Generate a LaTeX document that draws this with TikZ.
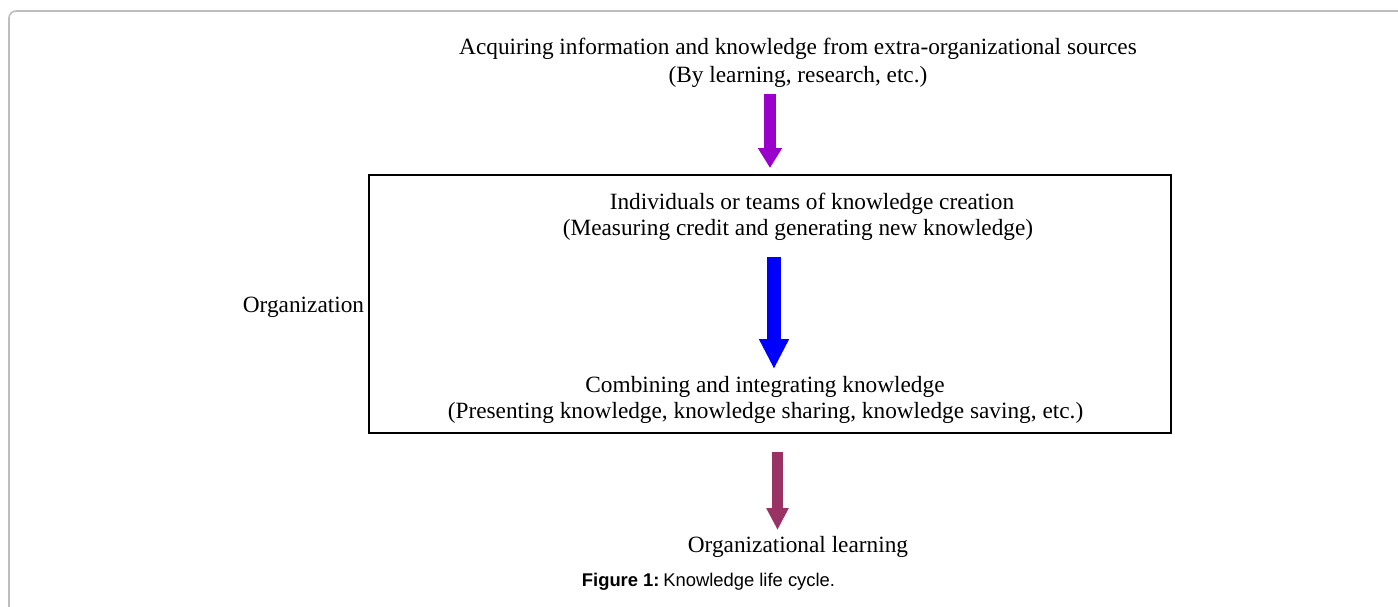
\documentclass[tikz,border=0pt]{standalone}
\usepackage{fontspec}
\setmainfont{Liberation Serif}
\setsansfont{Liberation Sans}
\usetikzlibrary{arrows.meta}
\definecolor{framegray}{RGB}{190,190,190}
\definecolor{topviolet}{RGB}{153,0,204}
\definecolor{midblue}{RGB}{0,0,255}
\definecolor{lowmaroon}{RGB}{153,51,102}
\tikzset{
  lbl/.style={font=\fontsize{23.3}{28}\selectfont, anchor=base, inner sep=0pt},
  figcaption/.style={font=\sffamily\fontsize{18.4}{22}\selectfont, anchor=base, inner sep=0pt},
  orgbox/.style={draw=black, line width=1.3pt, minimum width=802pt, minimum height=258pt, inner sep=0pt},
  blockarrow/.style n args={4}{draw=#1, line width=#2, -{Triangle[length=#3, width=#4, fill=#1]}},
}
\begin{document}
\begin{tikzpicture}[x=1pt,y=-1pt]
\useasboundingbox (0,0) rectangle (1398,606);
\begin{scope}
\clip (0,0) rectangle (1398,606);
\draw[framegray, line width=1.6pt, rounded corners=7pt] (9,640) -- (9,11) -- (1430,11);
\end{scope}
\node[orgbox] (org) at (770,304) {};
\node[lbl] (src1) at (798,54) {Acquiring information and knowledge from extra-organizational sources};
\node[lbl] (src2) at (798,82) {(By learning, research, etc.)};
\node[lbl] (ind1) at (812,209.5) {Individuals or teams of knowledge creation};
\node[lbl] (ind2) at (798,235.5) {(Measuring credit and generating new knowledge)};
\node[lbl] (comb1) at (765,392.5) {Combining and integrating knowledge};
\node[lbl] (comb2) at (765.5,418.5) {(Presenting knowledge, knowledge sharing, knowledge saving, etc.)};
\node[lbl, anchor=base east] (orglbl) at (364.3,312.5) {Organization};
\node[lbl] (learn) at (798,552.5) {Organizational learning};
\node[figcaption] (caption) at (708.5,586.7) {\textbf{Figure 1:}\hspace{0.2em}Knowledge life cycle.};
\coordinate (a1s) at (770,94);
\coordinate (a1e) at (770,168);
\coordinate (a2s) at (774,257);
\coordinate (a2e) at (774,369);
\coordinate (a3s) at (777.5,452);
\coordinate (a3e) at (777.5,530);
\draw[blockarrow={topviolet}{12pt}{20pt}{23pt}] (a1s) -- (a1e);
\draw[blockarrow={midblue}{14pt}{30pt}{28pt}] (a2s) -- (a2e);
\draw[blockarrow={lowmaroon}{11pt}{22pt}{21pt}] (a3s) -- (a3e);
\end{tikzpicture}
\end{document}
